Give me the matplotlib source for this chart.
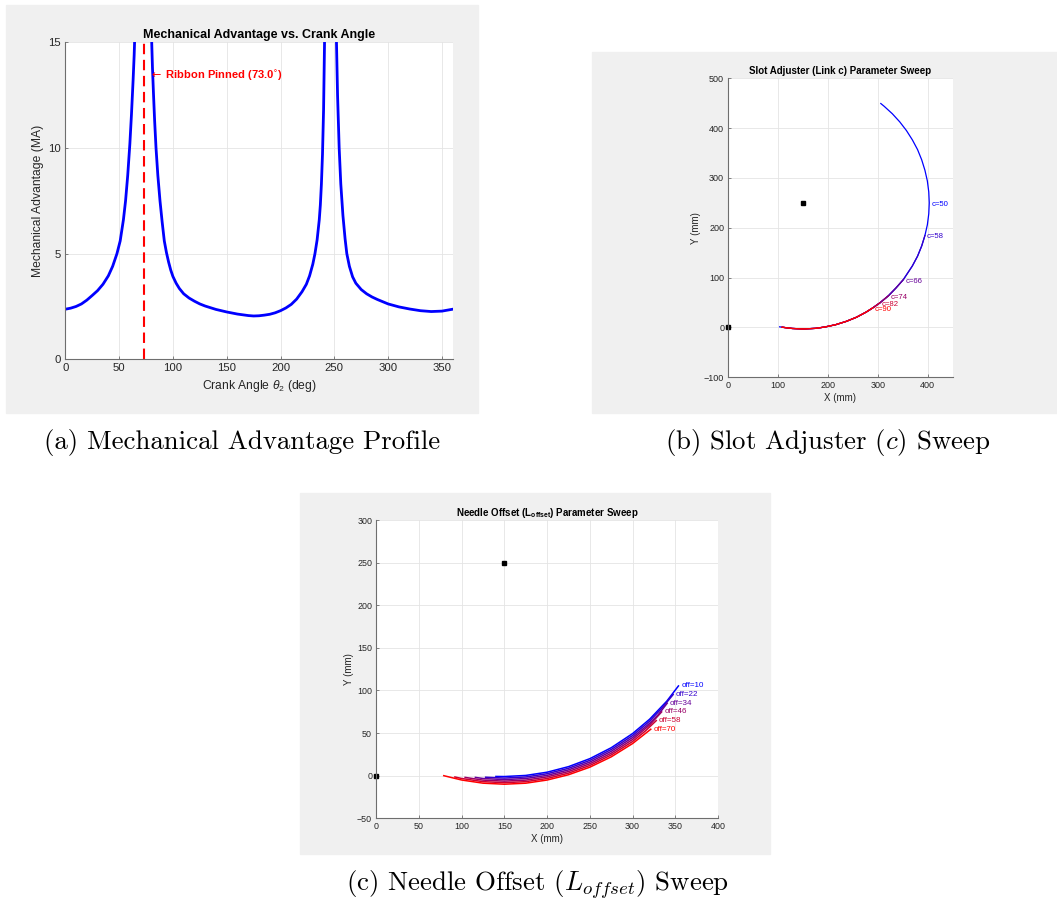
import matplotlib
matplotlib.use("Agg")
import matplotlib.pyplot as plt
from matplotlib.patches import Rectangle

# fonts: Helvetica-like for the MATLAB panels, Computer Modern for the captions
plt.rcParams['font.family'] = ['Liberation Sans', 'DejaVu Sans']
plt.rcParams['mathtext.fontset'] = 'custom'
plt.rcParams['mathtext.rm'] = 'Liberation Sans'
plt.rcParams['mathtext.it'] = 'Liberation Sans:italic'
plt.rcParams['mathtext.bf'] = 'Liberation Sans:bold'

# (a) mechanical advantage vs crank angle
theta_a = [0, 5, 10, 15, 20, 25, 30, 35, 40, 44, 48, 51, 54, 56, 58, 60, 61.5, 63, 64,
           65, 66, 67,
           79, 79.7, 80.3, 81, 82, 83, 84.3, 86, 88, 90, 92, 94, 96, 98, 100, 103, 106,
           110, 115, 120, 125, 130, 140, 150, 160, 170, 175, 180, 185, 190, 195, 200,
           205, 210, 215, 220, 224, 227, 230, 232, 234, 236, 237, 238, 239, 240, 240.9,
           241.5, 242,
           251.5, 252, 253, 254.5, 256, 258, 260, 261.6, 264, 267, 270, 275, 280, 285,
           290, 300, 310, 320, 330, 340, 350, 360]
ma_a = [2.37, 2.42, 2.5, 2.62, 2.8, 3.02, 3.25, 3.55, 3.95, 4.4, 5.0, 5.6, 6.6, 7.5, 8.7,
        10.2, 11.6, 13.2, 14.4, 16.0, 18.5, 22.0,
        20.0, 17.0, 15.0, 13.8, 12.5, 11.3, 10.0, 8.7, 7.5, 6.5, 5.6, 5.05, 4.6, 4.22,
        3.92, 3.6, 3.35, 3.1, 2.9, 2.75, 2.62, 2.52, 2.36, 2.24, 2.14, 2.07, 2.05, 2.06,
        2.09, 2.13, 2.2, 2.3, 2.43, 2.6, 2.85, 3.2, 3.55, 3.95, 4.5, 5.0, 5.65, 6.6, 7.3,
        8.3, 9.7, 11.8, 15.0, 18.0, 22.0,
        18.0, 15.0, 12.5, 10.0, 8.3, 6.8, 5.7, 5.0, 4.4, 3.9, 3.6, 3.3, 3.1, 2.95, 2.83,
        2.62, 2.48, 2.38, 2.3, 2.26, 2.28, 2.37]
pinned_angle = 73.0

# pivots shown as black squares in (b) and (c)
pivot_x = [0, 150]
pivot_y = [0, 250]

# (b) slot adjuster sweep: traced path and where each c curve starts/ends on it
path_x = [103, 108, 128, 150, 175, 194, 215, 236.5, 257, 276.5, 290, 304, 321, 336, 351,
          369, 379.5, 387.8, 394.3, 399.2, 402, 403, 402, 399.2, 394.3, 387.8, 379.5,
          369.1, 357.2, 343.8, 328.9, 312.6, 305.8]
path_y = [1.3, 0.5, -2, -3, -1.8, 1, 5.5, 12.2, 20.5, 30.9, 39.5, 49.4, 63.5, 79, 96,
          123.3, 143, 163.5, 184.5, 206.1, 228, 250, 272, 293.9, 315.5, 336.5, 357,
          376.5, 395.2, 412.6, 428.9, 443.8, 449.4]
c_values = [50, 58, 66, 74, 82, 90]
c_start = [0, 1, 1, 1, 1, 1]
c_end = [32, 18, 14, 12, 11, 10]

# (c) needle offset sweep
off_values = [10, 22, 34, 46, 58, 70]
off_x = [
    [140, 150, 175, 200, 225, 250, 275, 300, 320, 340, 353.7],
    [128, 150, 175, 200, 225, 250, 275, 300, 320, 335, 347.5],
    [116, 125, 150, 175, 200, 225, 250, 275, 300, 320, 330, 340.5],
    [104, 125, 150, 175, 200, 225, 250, 275, 300, 320, 334],
    [92, 100, 125, 150, 175, 200, 225, 250, 275, 300, 315, 327.7],
    [79, 100, 125, 150, 175, 200, 225, 250, 275, 300, 321.3],
]
off_y = [
    [-0.9, -1.0, 0.3, 4.1, 10.6, 20.0, 32.8, 49.4, 66.3, 87.4, 105.3],
    [-1.8, -2.8, -1.5, 2.3, 8.7, 18.0, 30.7, 47.1, 64.0, 80.0, 95.2],
    [-2.0, -3.3, -4.6, -3.3, 0.4, 6.8, 16.0, 28.6, 44.8, 61.5, 71.5, 85.0],
    [-2.0, -5.2, -6.4, -5.2, -1.4, 4.9, 14.0, 26.4, 42.5, 59.5, 74.8],
    [-1.5, -3.3, -7.0, -8.2, -7.0, -3.3, 3.0, 12.0, 24.3, 40.1, 52.5, 64.6],
    [0.0, -5.1, -8.8, -10.0, -8.8, -5.1, 1.1, 10.0, 22.1, 37.7, 54.5],
]

W, H = 1057, 900
fig = plt.figure(figsize=(W / 100, H / 100), dpi=100)


def box(l, t, r, b):
    return [l / W, 1 - b / H, (r - l) / W, (b - t) / H]


# grey MATLAB figure windows
for l, t, r, b in [(6, 5, 478, 413), (592, 52, 1057, 413), (300, 493, 770, 854)]:
    fig.add_artist(Rectangle((l / W, 1 - b / H), (r - l) / W, (b - t) / H,
                             transform=fig.transFigure, color='#f0f0f0', zorder=-5))


def style(ax, fs):
    for s in ['top', 'right']:
        ax.spines[s].set_visible(False)
    for s in ['left', 'bottom']:
        ax.spines[s].set_color('#6e6e6e')
        ax.spines[s].set_linewidth(0.8)
    ax.tick_params(direction='in', length=2.5, width=0.6, color='#6e6e6e',
                   labelcolor='#262626', labelsize=fs, pad=3)
    ax.grid(True, color='#e4e4e4', lw=0.6)
    ax.set_axisbelow(True)


def ramp(i, n):
    t = i / (n - 1)
    return (t, 0, 1 - t)


# ---- (a)
axA = fig.add_axes(box(65.3, 42.3, 452.7, 359.3))
axA.plot(theta_a, ma_a, color='blue', lw=2)
axA.axvline(pinned_angle, color='red', ls=(0, (5, 2.7)), lw=1.5)
axA.text(pinned_angle + 4.5, 13.4, r'$\leftarrow$ Ribbon Pinned (73.0$^{\circ}$)',
         color='red', fontweight='bold', fontsize=8, va='center',
         math_fontfamily='dejavusans')
axA.set_xlim(0, 360)
axA.set_ylim(0, 15)
axA.set_xticks(range(0, 360, 50))
axA.set_yticks([0, 5, 10, 15])
style(axA, 8.2)
axA.set_title('Mechanical Advantage vs. Crank Angle', fontsize=9, fontweight='bold', pad=3)
axA.set_xlabel(r'Crank Angle $\theta_2$ (deg)', fontsize=8.7, color='#262626', labelpad=3)
axA.set_ylabel('Mechanical Advantage (MA)', fontsize=8.7, color='#262626', labelpad=3)

# ---- (b)
axB = fig.add_axes(box(728.3, 78.3, 952.7, 377.3))
n = len(c_values)
for i, c in enumerate(c_values):
    xs = path_x[c_start[i]:c_end[i] + 1]
    ys = path_y[c_start[i]:c_end[i] + 1]
    col = ramp(i, n)
    axB.plot(xs, ys, color=col, lw=0.9)
    k = xs.index(max(xs))
    axB.annotate(f'c={c}', (xs[k], ys[k]), xytext=(1.5, -1), textcoords='offset points',
                 fontsize=5.6, color=col, va='center')
axB.plot(pivot_x, pivot_y, 'ks', ms=3.4, clip_on=False)
axB.set_xlim(0, 450)
axB.set_ylim(-100, 500)
axB.set_xticks(range(0, 450, 100))
axB.set_yticks(range(-100, 501, 100))
style(axB, 6.5)
axB.set_title('Slot Adjuster (Link c) Parameter Sweep', fontsize=7, fontweight='bold', pad=3)
axB.set_xlabel('X (mm)', fontsize=7, color='#262626', labelpad=2)
axB.set_ylabel('Y (mm)', fontsize=7, color='#262626', labelpad=2)

# ---- (c)
axC = fig.add_axes(box(376.3, 520, 718, 818.3))
n = len(off_values)
for i, off in enumerate(off_values):
    col = ramp(i, n)
    axC.plot(off_x[i], off_y[i], color=col, lw=1.1)
    axC.annotate(f'off={off}', (off_x[i][-1], off_y[i][-1]), xytext=(2, 0),
                 textcoords='offset points', fontsize=5.8, color=col, va='center')
axC.plot(pivot_x, pivot_y, 'ks', ms=3.2, clip_on=False)
axC.set_xlim(0, 400)
axC.set_ylim(-50, 300)
axC.set_xticks(range(0, 401, 50))
axC.set_yticks(range(-50, 301, 50))
style(axC, 6.4)
axC.set_title(r'Needle Offset (L$_{\mathbf{offset}}$) Parameter Sweep', fontsize=7,
              fontweight='bold', pad=3)
axC.set_xlabel('X (mm)', fontsize=7, color='#262626', labelpad=2)
axC.set_ylabel('Y (mm)', fontsize=7, color='#262626', labelpad=2)

# captions
cap = dict(fontfamily='cmr10', fontsize=19.3, ha='center', va='center', math_fontfamily='cm')
fig.text(242.5 / W, 1 - 443 / H, '(a) Mechanical Advantage Profile', **cap)
fig.text(828 / W, 1 - 443 / H, r'(b) Slot Adjuster ($c$) Sweep', **cap)
fig.text(538 / W, 1 - 885 / H, r'(c) Needle Offset ($L_{offset}$) Sweep', **cap)

fig.savefig('out.png', dpi=100, facecolor='white')
